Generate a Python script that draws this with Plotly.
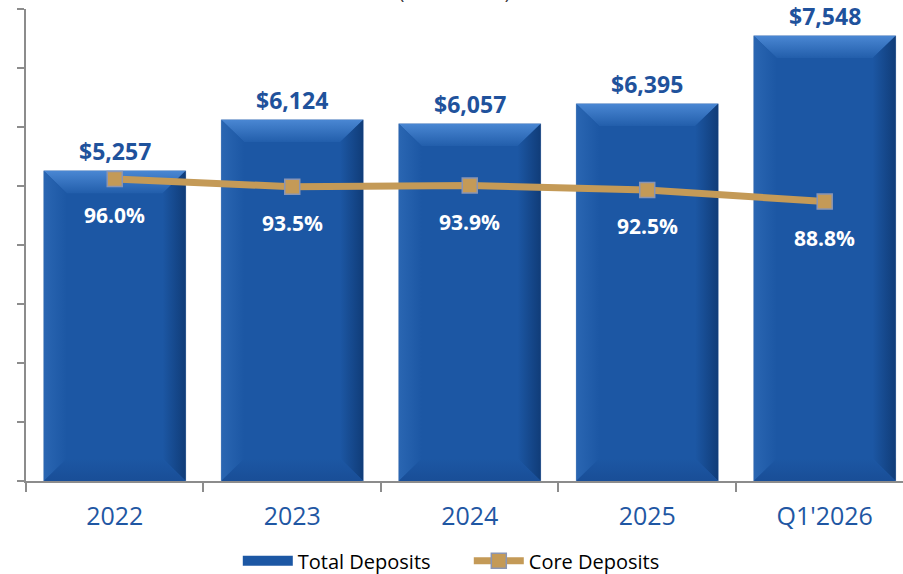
import plotly.graph_objects as go

# Deposit totals ($ millions) and core deposit share (%)
periods = ["2022", "2023", "2024", "2025", "Q1'2026"]
total_deposits = [5257, 6124, 6057, 6395, 7548]
core_pct = [96.0, 93.5, 93.9, 92.5, 88.8]
y_ticks = [0, 1000, 2000, 3000, 4000, 5000, 6000, 7000, 8000]

BAR_BLUE = "#1C57A4"
LABEL_BLUE = "#1F529C"
TAN = "#C49A57"
FONT = "Open Sans"

HALF_W = 0.4          # half bar width in category units
BEV_X = 0.13          # bevel width (category units)
BEV_Y = 380           # bevel height (y units)

xs = list(range(len(periods)))

fig = go.Figure()

fig.add_trace(go.Bar(
    x=xs, y=total_deposits, width=2 * HALF_W,
    marker=dict(color=BAR_BLUE, line=dict(color="#9FB4D2", width=0.6)),
    showlegend=False, hoverinfo="skip",
))


def bevel(px, py, orient, c0, c1):
    fig.add_trace(go.Scatter(
        x=px + [px[0]], y=py + [py[0]], mode="lines", fill="toself",
        line=dict(width=0), fillgradient=dict(type=orient, colorscale=[[0, c0], [1, c1]]),
        showlegend=False, hoverinfo="skip",
    ))


# bevelled edges for each bar
for i, v in zip(xs, total_deposits):
    L, R, T, B = i - HALF_W, i + HALF_W, v, 0
    # top face
    bevel([L, R, R - BEV_X, L + BEV_X], [T, T, T - BEV_Y, T - BEV_Y],
          "vertical", "#225EAB", "#4A87D3")
    # left face
    bevel([L, L + BEV_X, L + BEV_X, L], [T, T - BEV_Y, B + BEV_Y, B],
          "horizontal", "#2A66B2", BAR_BLUE)
    # right face
    bevel([R, R - BEV_X, R - BEV_X, R], [T, T - BEV_Y, B + BEV_Y, B],
          "horizontal", BAR_BLUE, "#103C78")
    # bottom face
    bevel([L, L + BEV_X, R - BEV_X, R], [B, B + BEV_Y, B + BEV_Y, B],
          "vertical", "#194E97", BAR_BLUE)

# legend swatch for the bars
fig.add_trace(go.Scatter(
    x=[None], y=[None], mode="lines", name="Total Deposits",
    line=dict(color=BAR_BLUE, width=14),
))

fig.add_trace(go.Scatter(
    x=xs, y=core_pct, yaxis="y2", mode="lines+markers", name="Core Deposits",
    line=dict(color=TAN, width=7),
    marker=dict(symbol="square", size=15, color=TAN, line=dict(color="#8A95B3", width=1.5)),
    hoverinfo="skip",
))

annotations = []
for i, v in zip(xs, total_deposits):
    annotations.append(dict(
        x=i, y=v, xref="x", yref="y", text=f"${v:,}", showarrow=False,
        yanchor="middle", yshift=20,
        font=dict(family=FONT, size=23, color=LABEL_BLUE, weight="bold"),
    ))
for i, p in zip(xs, core_pct):
    annotations.append(dict(
        x=i, y=p, xref="x", yref="y2", text=f"{p:.1f}%", showarrow=False,
        yanchor="middle", yshift=-36,
        font=dict(family=FONT, size=21, color="white", weight="bold"),
    ))
annotations.append(dict(
    x=0.489, y=1, xref="paper", yref="paper", text="($ in millions)",
    showarrow=False, yanchor="bottom", yshift=3,
    font=dict(family=FONT, size=18, color="#333333"),
))

fig.update_layout(
    width=903, height=574,
    margin=dict(l=26, r=0, t=9, b=93, autoexpand=False),
    paper_bgcolor="white", plot_bgcolor="white",
    bargap=0.2,
    showlegend=True,
    legend=dict(orientation="h", x=0.2415, xanchor="left", y=-0.169, yanchor="middle",
                font=dict(family=FONT, size=20, color="black"), itemwidth=50,
                entrywidth=166, entrywidthmode="pixels"),
    xaxis=dict(
        range=[-0.5, 4.441], tickmode="array", tickvals=xs, ticktext=periods,
        ticks="", showgrid=False, zeroline=False,
        showline=True, linecolor="#8C8C8C", linewidth=2,
        tickfont=dict(family=FONT, size=25, color="#1F57A3"),
        ticklabelstandoff=12,
        minor=dict(tickmode="array", tickvals=[x - 0.5 for x in xs] + [xs[-1] + 0.5],
                   ticks="outside", ticklen=9, tickcolor="#8C8C8C", tickwidth=2, showgrid=False),
    ),
    yaxis=dict(
        range=[0, 8000], tickmode="array", tickvals=y_ticks, showticklabels=False,
        ticks="outside", ticklen=7, tickcolor="#8C8C8C", tickwidth=2,
        showgrid=False, zeroline=False, showline=True, linecolor="#8C8C8C", linewidth=2,
    ),
    yaxis2=dict(range=[0, 150], overlaying="y", visible=False),
    annotations=annotations,
)

fig.write_html("out.html")
